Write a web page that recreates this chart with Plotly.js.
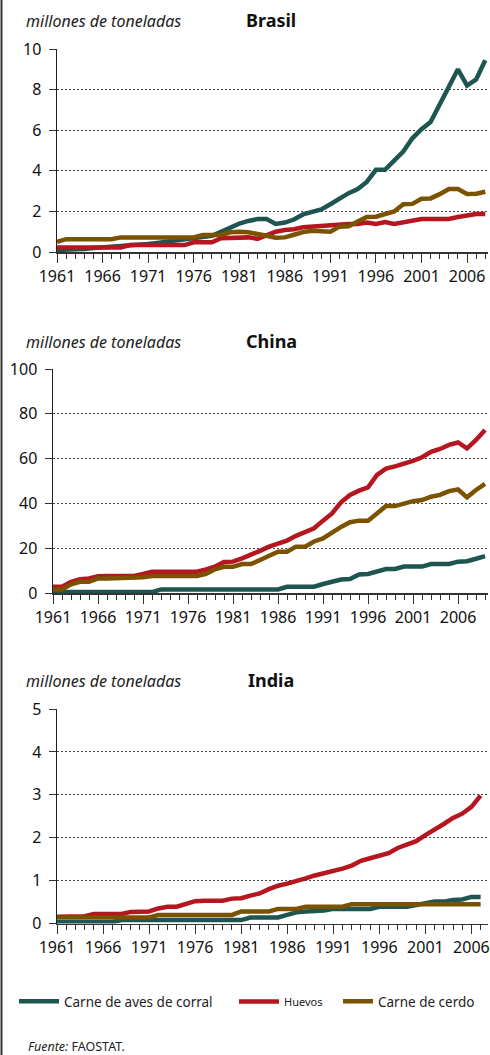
<!DOCTYPE html>
<html><head><meta charset="utf-8">
<script src="https://cdn.plot.ly/plotly-3.0.1.min.js"></script>
<style>html,body{margin:0;padding:0;background:#fff}#chart{width:490px;height:1055px}</style>
</head><body><div id="chart"></div>
<script>
// ---------- DATA ----------
const years = [1961,1962,1963,1964,1965,1966,1967,1968,1969,1970,1971,1972,1973,1974,1975,1976,1977,1978,1979,1980,1981,1982,1983,1984,1985,1986,1987,1988,1989,1990,1991,1992,1993,1994,1995,1996,1997,1998,1999,2000,2001,2002,2003,2004,2005,2006,2007,2008,2009];
const seriesNames = ['Carne de aves de corral', 'Huevos', 'Carne de cerdo'];
const countryTitles = ['Brasil', 'China', 'India'];
const unitLabel = 'millones de toneladas';
const sourceLabel = 'FAOSTAT.';

// Brasil 1961-2008
const brasilPoultry = [0.1,0.1,0.12,0.15,0.2,0.25,0.28,0.3,0.33,0.35,0.4,0.45,0.5,0.58,0.62,0.65,0.7,0.8,1.0,1.2,1.4,1.53,1.62,1.62,1.38,1.45,1.6,1.85,1.95,2.1,2.35,2.65,2.9,3.1,3.45,4.05,4.05,4.5,4.95,5.6,6.05,6.4,7.3,8.1,9.0,8.2,8.5,9.45];
const brasilEggs = [0.22,0.22,0.22,0.22,0.22,0.22,0.22,0.22,0.34,0.34,0.34,0.34,0.34,0.34,0.34,0.48,0.48,0.48,0.68,0.7,0.72,0.72,0.65,0.85,1.0,1.08,1.12,1.22,1.25,1.28,1.35,1.38,1.38,1.38,1.45,1.38,1.48,1.38,1.45,1.55,1.62,1.62,1.62,1.63,1.72,1.78,1.87,1.87];
const brasilPork = [0.5,0.63,0.63,0.63,0.63,0.63,0.63,0.72,0.72,0.72,0.72,0.72,0.72,0.72,0.72,0.72,0.84,0.84,0.84,0.97,1.0,0.97,0.9,0.8,0.7,0.72,0.85,0.98,1.05,1.0,1.0,1.25,1.27,1.5,1.72,1.74,1.85,2.0,2.35,2.37,2.62,2.64,2.85,3.1,3.1,2.86,2.87,2.97];

// China 1961-2009
const chinaPoultry = [0.4,0.4,0.4,0.4,0.4,0.4,0.4,0.4,0.4,0.4,0.4,0.4,1.6,1.6,1.6,1.6,1.6,1.6,1.6,1.6,1.6,1.6,1.6,1.6,1.6,1.6,2.8,2.8,2.8,2.8,4.0,5.0,6.0,6.2,8.3,8.5,9.5,10.7,10.7,11.8,11.8,11.8,12.9,12.9,13.0,14.0,14.2,15.3,16.5];
const chinaEggs = [2.8,2.8,5.0,6.2,6.5,7.5,7.6,7.6,7.6,7.6,8.5,9.5,9.5,9.5,9.5,9.5,9.5,10.5,11.8,13.8,14.0,15.5,17.0,18.8,20.7,22.0,23.4,25.5,27.4,28.9,32.3,35.5,40.5,43.8,45.7,47.2,52.7,55.5,56.5,57.6,59.0,60.6,63.0,64.3,66.1,67.2,64.6,68.3,72.8];
const chinaPork = [1.6,1.6,3.9,5.0,5.0,6.5,6.5,6.5,6.5,6.5,7.0,7.6,7.6,7.6,7.6,7.6,7.6,8.5,10.6,11.7,11.7,12.9,12.9,14.7,16.5,18.4,18.4,20.7,20.7,23.0,24.4,27.0,29.5,31.6,32.3,32.3,35.6,38.8,38.8,40.0,41.0,41.5,43.0,43.8,45.5,46.2,42.7,46.0,48.7];

// India 1961-2007
const indiaPoultry = [0.03,0.03,0.03,0.03,0.03,0.03,0.03,0.08,0.08,0.08,0.08,0.08,0.08,0.08,0.08,0.08,0.08,0.08,0.08,0.08,0.08,0.14,0.14,0.14,0.14,0.2,0.26,0.28,0.28,0.3,0.34,0.34,0.34,0.34,0.34,0.39,0.39,0.39,0.39,0.43,0.47,0.51,0.51,0.55,0.56,0.62,0.62];
const indiaEggs = [0.16,0.16,0.16,0.17,0.22,0.22,0.22,0.22,0.27,0.28,0.28,0.35,0.39,0.39,0.45,0.52,0.53,0.53,0.53,0.58,0.59,0.65,0.7,0.8,0.88,0.93,0.98,1.05,1.12,1.17,1.23,1.28,1.35,1.46,1.52,1.57,1.64,1.76,1.85,1.92,2.06,2.18,2.32,2.46,2.56,2.72,2.98];
const indiaPork = [0.14,0.14,0.14,0.14,0.14,0.14,0.14,0.14,0.14,0.14,0.14,0.2,0.2,0.2,0.2,0.2,0.2,0.2,0.2,0.2,0.28,0.28,0.28,0.28,0.34,0.34,0.34,0.39,0.39,0.39,0.39,0.39,0.45,0.45,0.45,0.45,0.45,0.45,0.45,0.45,0.45,0.45,0.45,0.45,0.45,0.45,0.45];

const yTicksBrasil = [0,2,4,6,8,10];
const yTicksChina = [0,20,40,60,80,100];
const yTicksIndia = [0,1,2,3,4,5];

// ---------- STYLE ----------
const W = 490, H = 1055;
const px = v => v / W;
const py = v => 1 - v / H;
const FONT = 'Noto Sans, Open Sans, sans-serif';
const colors = ['#1E5550', '#B5161F', '#7A5200'];
const legendIds = ['legend', 'legend2', 'legend3'];

const countries = [
  { ax: '', years: years.slice(0, brasilPoultry.length), data: [brasilPoultry, brasilEggs, brasilPork] },
  { ax: '2', years: years.slice(0, chinaPoultry.length), data: [chinaPoultry, chinaEggs, chinaPork] },
  { ax: '3', years: years.slice(0, indiaPoultry.length), data: [indiaPoultry, indiaEggs, indiaPork] }
];

const traces = [];
countries.forEach((c, ci) => {
  c.data.forEach((vals, si) => {
    traces.push({
      type: 'scatter', mode: 'lines',
      x: c.years, y: vals,
      xaxis: 'x' + c.ax, yaxis: 'y' + c.ax,
      name: si === 1 ? '<span style="font-size:11px">' + seriesNames[si] + '</span>' : seriesNames[si],
      legend: legendIds[si],
      showlegend: ci === 0,
      line: { color: colors[si], width: 4.5 },
      hoverinfo: 'skip'
    });
  });
});

function xAxis(domain, range, anchor) {
  return {
    domain: domain, range: range, anchor: anchor,
    tickmode: 'linear', tick0: 1961, dtick: 5,
    ticks: 'outside', ticklen: 9, tickwidth: 1, tickcolor: '#333',
    showline: true, linecolor: '#333', linewidth: 1.5,
    showgrid: false, zeroline: false,
    minor: { tick0: 1961, dtick: 1, ticks: 'outside', ticklen: 5, tickwidth: 1, tickcolor: '#333', showgrid: false },
    tickfont: { family: FONT, size: 16, color: '#111' },
    fixedrange: true
  };
}
function yAxis(domain, ticks, anchor) {
  return {
    domain: domain, range: [ticks[0], ticks[ticks.length - 1]], anchor: anchor,
    tickmode: 'array', tickvals: ticks, ticktext: ticks.map(String),
    ticks: 'outside', ticklen: 7, tickwidth: 1, tickcolor: '#333',
    showline: true, linecolor: '#222', linewidth: 1.5,
    showgrid: true, gridcolor: '#444', gridwidth: 1, griddash: '2px,2px',
    zeroline: false, ticklabelstandoff: 4,
    tickfont: { family: FONT, size: 16, color: '#111' },
    fixedrange: true
  };
}

const annotations = [];
const titleY = [21, 342, 681];
titleY.forEach((ty, i) => {
  annotations.push({ xref: 'paper', yref: 'paper', x: px(24), y: py(ty), xanchor: 'left', yanchor: 'middle',
    text: '<i>' + unitLabel + '</i>', showarrow: false, font: { family: FONT, size: 16, color: '#222' } });
  annotations.push({ xref: 'paper', yref: 'paper', x: px(271), y: py(ty - 1), xanchor: 'center', yanchor: 'middle',
    text: '<b>' + countryTitles[i] + '</b>', showarrow: false, font: { family: FONT, size: 18, color: '#111' } });
});
annotations.push({ xref: 'paper', yref: 'paper', x: px(26), y: py(1046), xanchor: 'left', yanchor: 'middle',
  text: '<i>Fuente:</i> ' + sourceLabel, showarrow: false, font: { family: FONT, size: 12.5, color: '#222' } });

const legendBase = (x, size, iw) => ({
  x: px(x), y: py(1001.5), xanchor: 'left', yanchor: 'middle', orientation: 'h',
  bgcolor: 'rgba(0,0,0,0)', borderwidth: 0, itemwidth: iw,
  font: { family: FONT, size: size, color: '#222' }
});

const layout = {
  width: W, height: H,
  margin: { l: 0, r: 0, t: 0, b: 0 },
  paper_bgcolor: '#fff', plot_bgcolor: '#fff',
  font: { family: FONT },
  xaxis: xAxis([px(57), px(488)], [1961, 2008.3], 'y'),
  yaxis: yAxis([py(252), py(49)], yTicksBrasil, 'x'),
  xaxis2: xAxis([px(53), px(488)], [1961, 2009.33], 'y2'),
  yaxis2: yAxis([py(593), py(369)], yTicksChina, 'x2'),
  xaxis3: xAxis([px(57), px(488)], [1961, 2007.8], 'y3'),
  yaxis3: yAxis([py(923.5), py(709)], yTicksIndia, 'x3'),
  legend: legendBase(14, 13.5, 40),
  legend2: legendBase(234, 11, 40),
  legend3: legendBase(338, 13.5, 30),
  annotations: annotations,
  shapes: [{ type: 'line', xref: 'paper', yref: 'paper', x0: px(1.5), x1: px(1.5), y0: 0, y1: 1,
    line: { color: '#333', width: 2 } }]
};

Plotly.newPlot('chart', traces, layout, { displayModeBar: false, staticPlot: true });
</script>
</body></html>
